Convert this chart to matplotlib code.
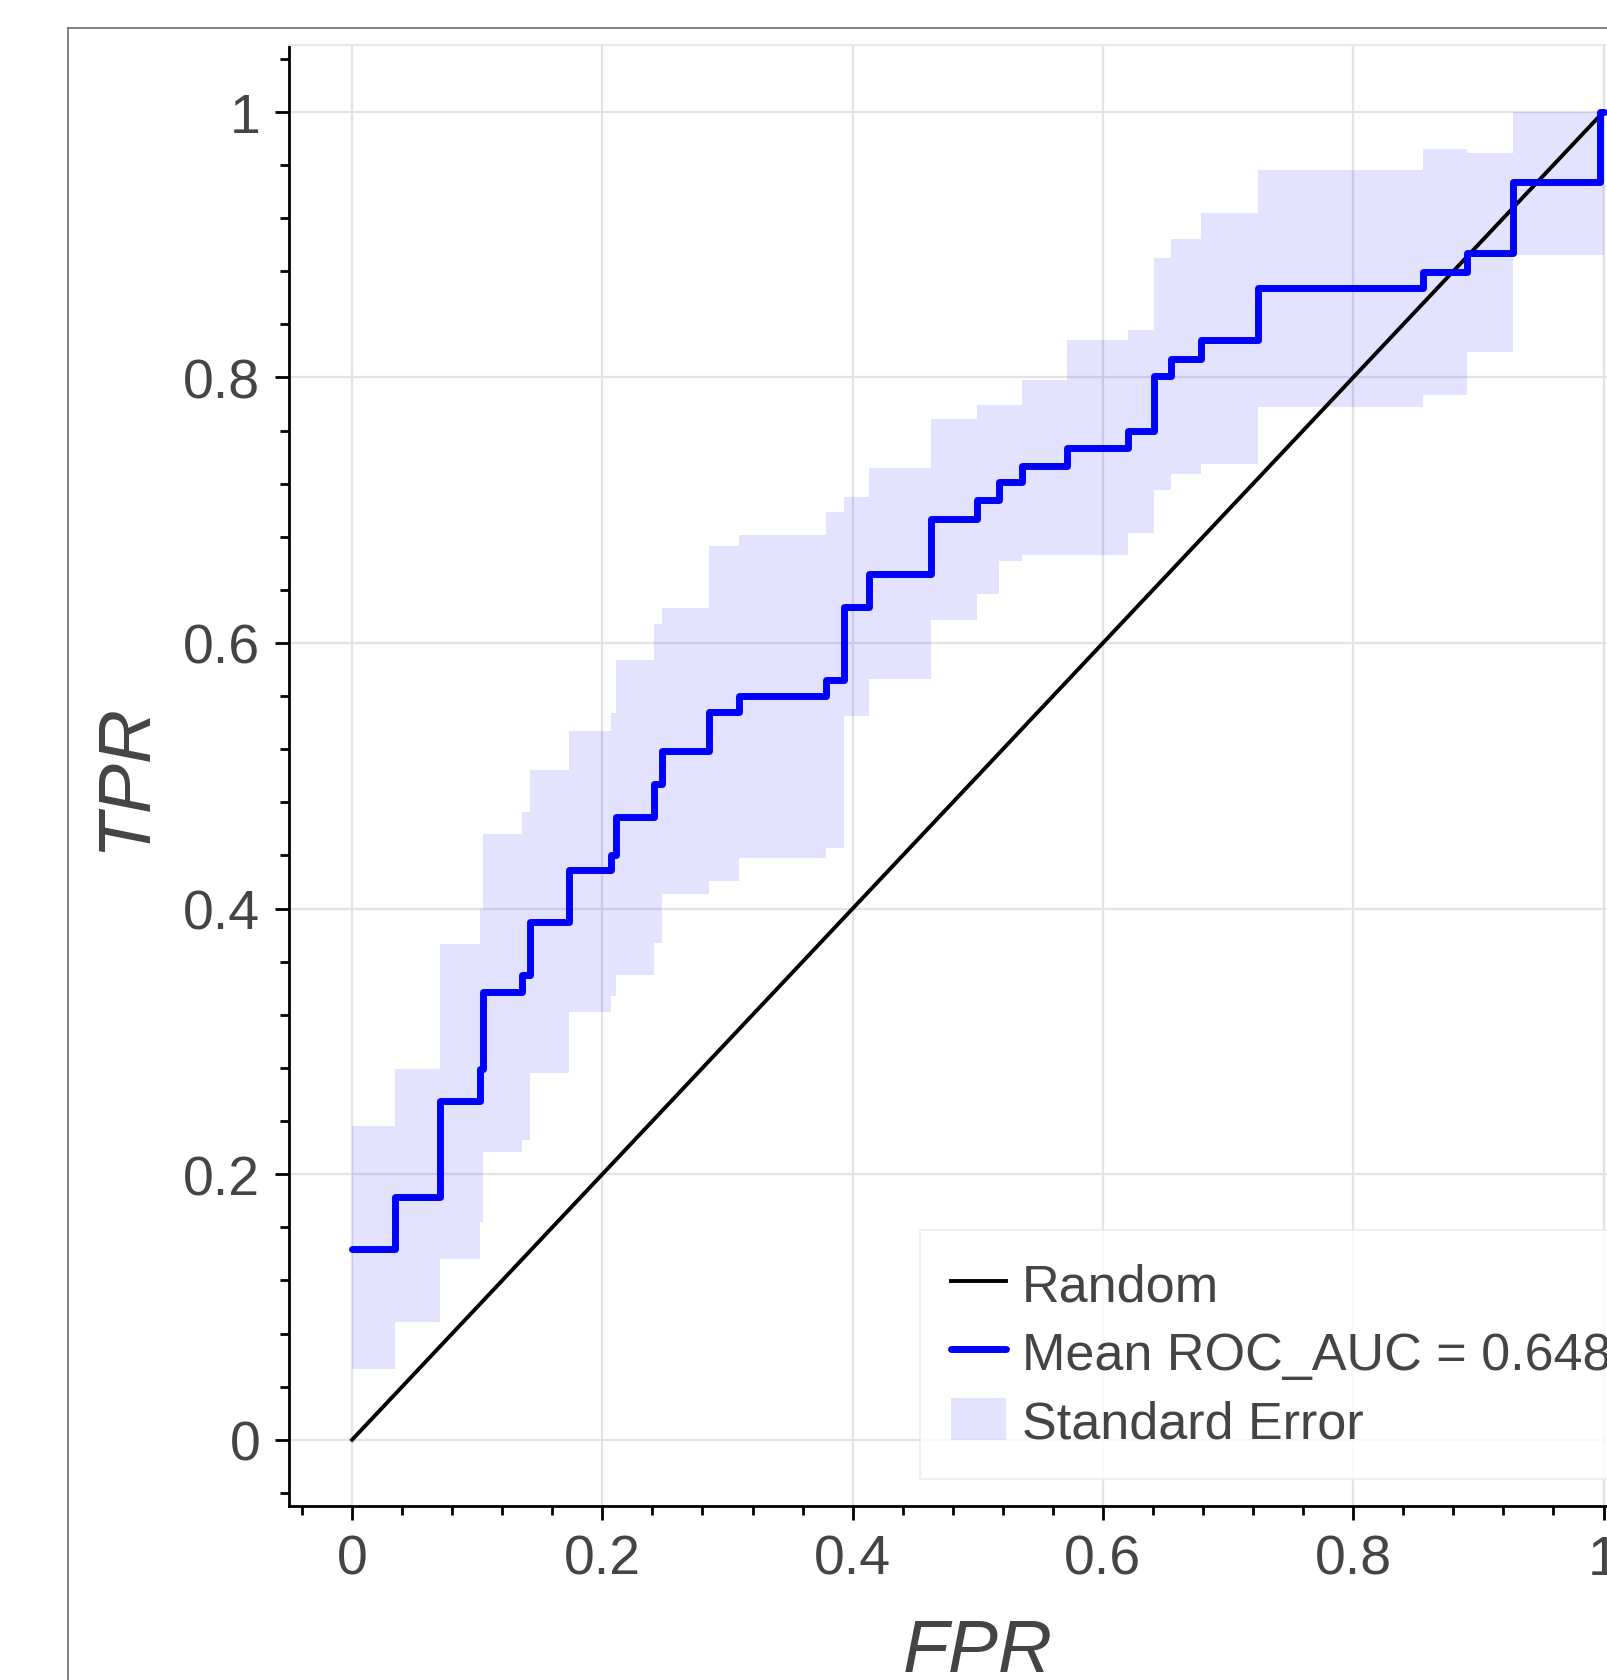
import matplotlib
matplotlib.use("Agg")
import matplotlib.pyplot as plt
from matplotlib.ticker import MultipleLocator, FormatStrFormatter
from matplotlib.lines import Line2D

plt.rcParams["font.family"] = ["Liberation Sans", "DejaVu Sans"]

# step breakpoints of the mean ROC curve (fpr) and the values on each step
fpr = [0.000, 0.034, 0.070, 0.102, 0.105, 0.136, 0.142, 0.173, 0.207, 0.211,
       0.241, 0.248, 0.285, 0.309, 0.379, 0.393, 0.413, 0.463, 0.499, 0.517,
       0.535, 0.571, 0.620, 0.641, 0.654, 0.678, 0.724, 0.856, 0.891, 0.928,
       0.997, 1.000]
mean_tpr = [0.144, 0.183, 0.255, 0.279, 0.337, 0.350, 0.390, 0.429, 0.440, 0.469,
            0.494, 0.519, 0.548, 0.560, 0.572, 0.627, 0.652, 0.693, 0.708, 0.721,
            0.733, 0.747, 0.760, 0.801, 0.814, 0.828, 0.867, 0.879, 0.894, 0.947,
            1.000, 1.000]
tpr_upper = [0.236, 0.279, 0.373, 0.400, 0.456, 0.473, 0.504, 0.534, 0.547, 0.587,
             0.614, 0.626, 0.673, 0.681, 0.699, 0.710, 0.732, 0.769, 0.779, 0.779,
             0.798, 0.828, 0.836, 0.890, 0.904, 0.924, 0.956, 0.972, 0.969, 1.000,
             1.000, 1.000]
tpr_lower = [0.053, 0.089, 0.136, 0.164, 0.217, 0.226, 0.276, 0.322, 0.334, 0.350,
             0.374, 0.411, 0.421, 0.438, 0.446, 0.545, 0.573, 0.617, 0.637, 0.662,
             0.666, 0.666, 0.683, 0.715, 0.727, 0.735, 0.778, 0.787, 0.819, 0.892,
             0.892, 0.892]
random_x = [0, 1]
random_y = [0, 1]
mean_auc = 0.648

W, H = 1608, 1681
fig = plt.figure(figsize=(W / 100, H / 100), dpi=100)

# outer frame of the screenshot (left and top edges visible)
fig.add_artist(Line2D([68 / W, 68 / W], [0, 1 - 29 / H], color="#777777", lw=1.3))
fig.add_artist(Line2D([68 / W, 1], [1 - 29 / H, 1 - 29 / H], color="#777777", lw=1.3))

ax = fig.add_axes([289.5 / W, 1 - 1507.2 / H, 1376.6 / W, 1460.8 / H])

ax.fill_between(fpr, tpr_lower, tpr_upper, step="post", color="blue",
                alpha=0.11, lw=0, label="Standard Error", zorder=1)
ax.plot(random_x, random_y, color="black", lw=2.8, label="Random", zorder=2)
ax.step(fpr, mean_tpr, where="post", color="blue", lw=5,
        solid_joinstyle="round", solid_capstyle="round",
        label="Mean ROC_AUC = %.3f" % mean_auc, zorder=3)

ax.set_xlim(-0.05, 1.05)
ax.set_ylim(-0.05, 1.05)

for a in (ax.xaxis, ax.yaxis):
    a.set_major_locator(MultipleLocator(0.2))
    a.set_minor_locator(MultipleLocator(0.04))
    a.set_major_formatter(FormatStrFormatter("%g"))

ax.grid(True, which="major", color="#e3e3e3", lw=1.6)
ax.set_axisbelow(True)

for s in ("top", "right"):
    ax.spines[s].set_color("#e8e8e8")
    ax.spines[s].set_linewidth(1.5)
for s in ("left", "bottom"):
    ax.spines[s].set_color("black")
    ax.spines[s].set_linewidth(2)

ax.tick_params(which="major", direction="out", length=10, width=2, color="black",
               labelsize=40, labelcolor="#444444")
ax.tick_params(which="minor", direction="out", length=6.5, width=2, color="black")
ax.tick_params(axis="y", which="major", pad=11)
ax.tick_params(axis="x", which="major", pad=10)

ax.set_xlabel("FPR", fontsize=54, style="italic", color="#444444", labelpad=22)
ax.set_ylabel("TPR", fontsize=54, style="italic", color="#444444", labelpad=17)

handles, labels = ax.get_legend_handles_labels()
order = [labels.index("Random"), labels.index("Mean ROC_AUC = %.3f" % mean_auc),
         labels.index("Standard Error")]
leg = ax.legend([handles[i] for i in order], [labels[i] for i in order],
                loc="upper left", bbox_to_anchor=(920 / W, 1 - 1231 / H),
                bbox_transform=fig.transFigure, fontsize=37.5,
                frameon=True, fancybox=False, borderpad=0.6, handlelength=1.06,
                handleheight=0.85, handletextpad=0.3, labelspacing=0.36,
                borderaxespad=0)
leg.get_frame().set_edgecolor("#ececec")
leg.get_frame().set_linewidth(1.5)
for t in leg.get_texts():
    t.set_color("#444444")

fig.savefig("out.png", dpi=100)
